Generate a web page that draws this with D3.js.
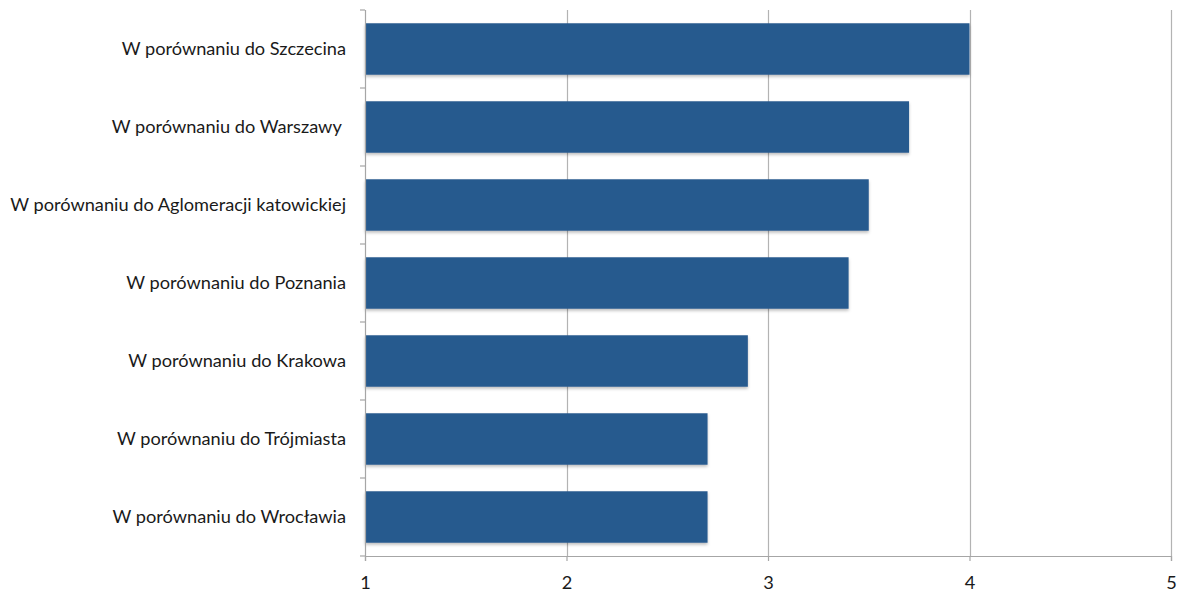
<!DOCTYPE html>
<html>
<head>
<meta charset="utf-8">
<script src="https://cdn.jsdelivr.net/npm/d3@7"></script>
<style>
  html, body { margin: 0; padding: 0; background: #fff; }
  svg { display: block; }
  text { font-family: Lato, "Open Sans", sans-serif; fill: #1a1a1a; white-space: pre; }
</style>
</head>
<body>
<svg id="chart" width="1181" height="592"></svg>
<script>
// Categories, top to bottom
const categories = [
  "W porównaniu do Szczecina",
  "W porównaniu do Warszawy ",
  "W porównaniu do Aglomeracji katowickiej",
  "W porównaniu do Poznania",
  "W porównaniu do Krakowa",
  "W porównaniu do Trójmiasta",
  "W porównaniu do Wrocławia"
];
const values = [4.0, 3.7, 3.5, 3.4, 2.9, 2.7, 2.7];
const xTicks = [1, 2, 3, 4, 5];

const svg = d3.select("#chart");
const margin = { top: 10, right: 10, bottom: 36, left: 365 };
const plotW = 1171 - margin.left;
const plotH = 556 - margin.top;
const fontSize = 18.2;

const defs = svg.append("defs");
const f = defs.append("filter").attr("id", "shadow")
  .attr("x", "-5%").attr("y", "-20%").attr("width", "110%").attr("height", "150%");
f.append("feDropShadow").attr("dx", 0).attr("dy", 2).attr("stdDeviation", 1.5)
  .attr("flood-color", "#000").attr("flood-opacity", 0.25);

const g = svg.append("g").attr("transform", `translate(${margin.left},${margin.top})`);

const x = d3.scaleLinear().domain([1, 5]).range([0, plotW]);
const y = d3.scaleBand().domain(categories).range([0, plotH]).paddingInner(0.34).paddingOuter(0.17);
const yBands = d3.scaleBand().domain(categories).range([0, plotH]);

// vertical gridlines
g.append("g").selectAll("line").data(xTicks.filter(t => t > 1)).join("line")
  .attr("x1", d => Math.round(x(d)) + 0.5).attr("x2", d => Math.round(x(d)) + 0.5)
  .attr("y1", 0).attr("y2", plotH)
  .attr("stroke", "#b3b3b3").attr("stroke-width", 1.2);

// bars
g.append("g").selectAll("rect").data(values).join("rect")
  .attr("x", x(1))
  .attr("y", (d, i) => y(categories[i]))
  .attr("width", d => x(d) - x(1))
  .attr("height", y.bandwidth())
  .attr("fill", "#285a8e")
  .attr("filter", "url(#shadow)");

// x axis
const xAxis = g.append("g").attr("transform", `translate(0,${plotH})`)
  .call(d3.axisBottom(x).tickValues(xTicks).tickSize(5).tickPadding(15).tickFormat(d3.format("d")));
xAxis.select(".domain").attr("stroke", "#a6a6a6").attr("stroke-width", 1.2);
xAxis.selectAll(".tick line").attr("stroke", "#a6a6a6").attr("stroke-width", 1.2);
xAxis.selectAll("text").attr("font-size", fontSize).attr("fill", "#1a1a1a")
  .attr("font-family", "Lato, sans-serif");

// y axis line and tick marks at band boundaries
const yAxisG = g.append("g");
yAxisG.append("line").attr("x1", 0.5).attr("x2", 0.5).attr("y1", 0).attr("y2", plotH)
  .attr("stroke", "#a6a6a6").attr("stroke-width", 1.2);
const bounds = categories.map(c => yBands(c)).concat([plotH]);
yAxisG.selectAll("line.tk").data(bounds).join("line").attr("class", "tk")
  .attr("x1", -5).attr("x2", 0).attr("y1", d => d).attr("y2", d => d)
  .attr("stroke", "#a6a6a6").attr("stroke-width", 1.2);

// category labels
yAxisG.selectAll("text").data(categories).join("text")
  .attr("x", -19)
  .attr("y", d => yBands(d) + yBands.bandwidth() / 2)
  .attr("dy", "0.35em")
  .attr("text-anchor", "end")
  .attr("font-size", fontSize)
  .text(d => d);
</script>
</body>
</html>
